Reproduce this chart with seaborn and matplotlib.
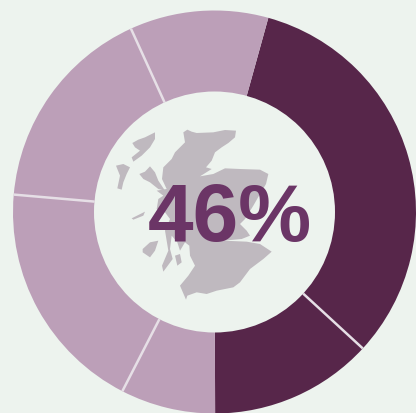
import numpy as np
import matplotlib
matplotlib.use("Agg")
import matplotlib.pyplot as plt
from matplotlib.patches import Polygon, Circle
import seaborn as sns

shares = [32.5, 13.1, 7.6, 18.8, 16.8, 11.1]
segment_colors = ["#57264a", "#57264a", "#bc9fb8", "#bc9fb8", "#bc9fb8", "#bc9fb8"]
center_label = "46%"

BG = "#edf3ee"
mainland = [(250,40),(262,32),(275,38),(290,42),(340,40),(375,33),(408,35),(405,55),(385,72),(365,85),(345,100),(335,125),
            (318,145),(335,150),(300,172),(340,165),(375,148),(420,150),(480,152),(505,165),(498,195),(480,225),
            (460,260),(435,300),(420,315),(440,335),(450,350),(425,360),(370,365),(440,368),(480,375),(515,398),
            (490,420),(450,450),(420,490),(400,505),(350,515),(320,525),(290,520),(262,530),(258,542),(240,500),
            (265,470),(285,440),(270,410),(268,380),(255,370),(240,395),(232,370),(215,350),(210,390),(218,420),
            (190,458),(186,440),(205,395),(195,335),(210,300),(195,280),(170,270),(175,240),(190,230),(170,215),
            (200,210),(186,180),(190,145),(215,120),(225,100),(235,90),(255,70)]
islands = [
    [(118,165),(135,158),(150,142),(165,160),(175,185),(195,215),(175,210),(150,190),(130,180)],
    [(97,72),(115,62),(135,55),(165,40),(165,60),(150,85),(125,110),(100,128),(95,115),(120,95),(105,85)],
    [(48,140),(70,135),(90,145),(80,165),(70,190),(65,212),(52,208),(60,170)],
    [(128,390),(150,370),(175,365),(165,395),(150,415),(128,400)],
    [(225,410),(240,405),(245,430),(232,440)],
    [(95,298),(135,278),(130,290),(100,302)],
]

sns.set_theme(style="white")
plt.rcParams["font.family"] = ["Liberation Sans", "DejaVu Sans"]

fig = plt.figure(figsize=(4.16, 4.14), dpi=100, facecolor=BG)
ax = fig.add_axes([0, 0, 1, 1])
ax.set_facecolor(BG)

H = 414
cx, cy, R, r = 214.5, H - 213, 201.5, 120.5
start = 74.5
ax.pie(shares, colors=segment_colors, startangle=start, counterclock=False,
       center=(cx, cy), radius=R, wedgeprops=dict(linewidth=0))

cum = np.cumsum(shares) / np.sum(shares) * 360
for i in (0, 2, 3, 4):
    a = np.deg2rad(start - cum[i])
    ax.plot([cx + r * np.cos(a), cx + R * np.cos(a)],
            [cy + r * np.sin(a), cy + R * np.sin(a)],
            color="#e6dfe6", lw=1.8, solid_capstyle="butt", zorder=3)

ax.add_patch(Circle((cx, cy), r, facecolor=BG, edgecolor="none", zorder=4))

def to_px(pts):
    return [(100 + x / 3, H - (120 + y / 3)) for x, y in pts]

for shape in [mainland] + islands:
    ax.add_patch(Polygon(to_px(shape), closed=True, facecolor="#bfb9bf", edgecolor="none", zorder=5))

ax.text(229.5, H - 212, center_label, color="#6b3566", fontsize=59, fontweight="bold",
        ha="center", va="center_baseline", zorder=6)

ax.set_xlim(0, 416)
ax.set_ylim(0, H)
ax.set_aspect("auto")
ax.axis("off")
fig.savefig("out.png", dpi=100, facecolor=BG)
